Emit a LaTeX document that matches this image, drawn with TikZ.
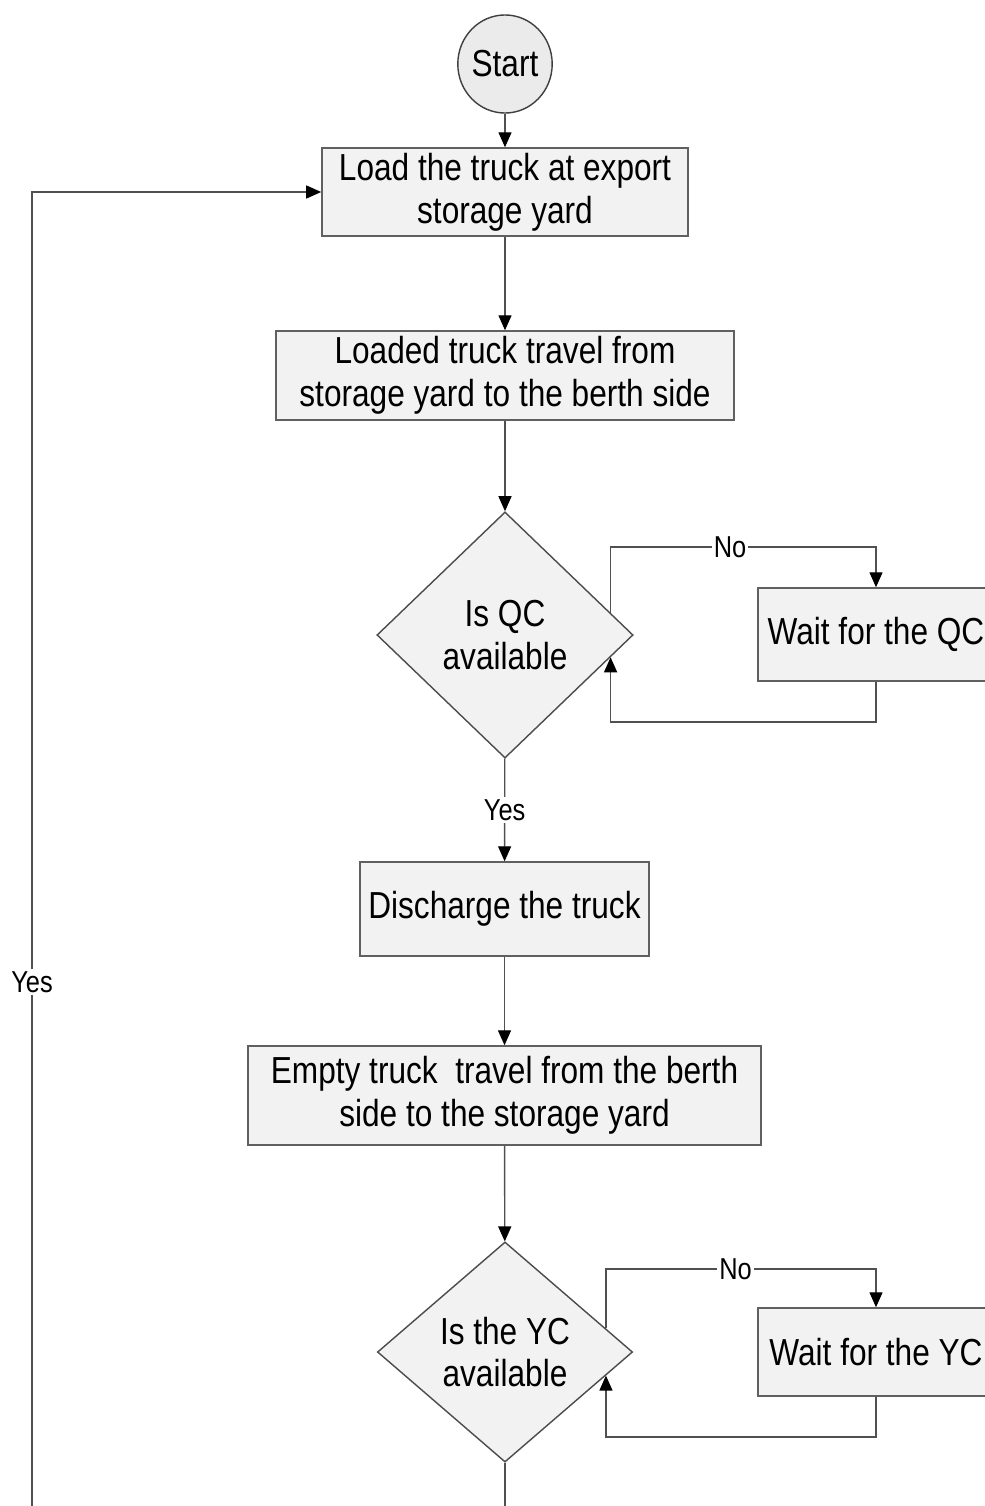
\documentclass[tikz,border=0pt]{standalone}
\usepackage{fontspec}
\setmainfont{Liberation Sans}[FakeStretch=0.84]
\usetikzlibrary{shapes.geometric,arrows.meta,calc}
\definecolor{boxfill}{HTML}{F2F2F2}
\definecolor{startfill}{HTML}{EBEBEB}
\definecolor{edgegray}{HTML}{606060}
\definecolor{linegray}{HTML}{505050}
\begin{document}
\begin{tikzpicture}[x=0.01cm,y=-0.01cm,
  every node/.style={font=\fontsize{10.7}{12.2}\selectfont},
  procbox/.style={rectangle,draw=edgegray,fill=boxfill,line width=0.4pt,inner sep=0pt,align=center},
  decide/.style={diamond,draw=black!70,fill=boxfill,line width=0.4pt,inner sep=0pt,align=center},
  term/.style={ellipse,draw=black!75,fill=startfill,line width=0.4pt,inner sep=0pt,minimum width=0.90cm,minimum height=0.98cm},
  conn/.style={draw=linegray,line width=0.4pt,-{Triangle[length=1.5mm,width=1.3mm,color=black]}},
  plain/.style={draw=linegray,line width=0.4pt},
  lbl/.style={fill=white,inner sep=0.6pt,font=\fontsize{8.6}{9.5}\selectfont}]
\clip (0,0) rectangle (985,1506);
\fill[white] (0,0) rectangle (985,1506);

% main column
\node[term] (start) at (505,64) {Start};
\node[procbox,minimum width=3.66cm,minimum height=0.88cm] (b1) at (505,192) {Load the truck at export\\storage yard};
\node[procbox,minimum width=4.58cm,minimum height=0.89cm] (b2) at (505,375.5) {Loaded truck travel from\\storage yard to the berth side};
\node[decide,minimum width=2.56cm,minimum height=2.46cm] (d1) at (505,635) {Is QC\\available};
\node[procbox,minimum width=2.89cm,minimum height=0.94cm] (b3) at (504.5,909) {Discharge the truck};
\node[procbox,minimum width=5.13cm,minimum height=0.99cm] (b4) at (504.5,1095.5) {Empty truck\ \ travel from the berth\\side to the storage yard};
\node[decide,minimum width=2.55cm,minimum height=2.20cm] (d2) at (505,1352) {Is the YC\\available};

% waiting boxes on the right
\node[procbox,minimum width=2.36cm,minimum height=0.93cm] (wqc) at (876,634.5) {Wait for the QC};
\node[procbox,minimum width=2.36cm,minimum height=0.88cm] (wyc) at (876,1352) {Wait for the YC};

% helper points
\coordinate (q1a) at ($(d1.north)!0.82!(d1.east)$);
\coordinate (q1b) at ($(d1.south)!0.82!(d1.east)$);
\coordinate (q2a) at ($(d2.north)!0.787!(d2.east)$);
\coordinate (q2b) at ($(d2.south)!0.787!(d2.east)$);
\coordinate (top1) at (0,547);
\coordinate (bot1) at (0,722);
\coordinate (top2) at (0,1269);
\coordinate (bot2) at (0,1437);
\coordinate (endA) at (505,1540);
\coordinate (endB) at (32,1540);

% flow
\draw[conn] (start) -- (b1);
\draw[conn] (b1) -- (b2);
\draw[conn] (b2) -- (d1);
\draw[conn] (d1) -- node[lbl,pos=0.5]{Yes} (b3);
\draw[conn] (b3) -- (b4);
\draw[conn] (b4) -- (d2);

% QC wait loop
\draw[conn] (q1a) -- (q1a |- top1) -| node[lbl,pos=0.225]{No} (wqc.north);
\draw[conn] (wqc.south) -- (wqc.south |- bot1) -| (q1b);

% YC wait loop
\draw[conn] (q2a) -- (q2a |- top2) -| node[lbl,pos=0.24]{No} (wyc.north);
\draw[conn] (wyc.south) -- (wyc.south |- bot2) -| (q2b);

% return to loading
\draw[plain] (d2.south) -- (endA);
\draw[conn] (endB) |- node[lbl,pos=0.207]{Yes} (b1.west);
\end{tikzpicture}
\end{document}
